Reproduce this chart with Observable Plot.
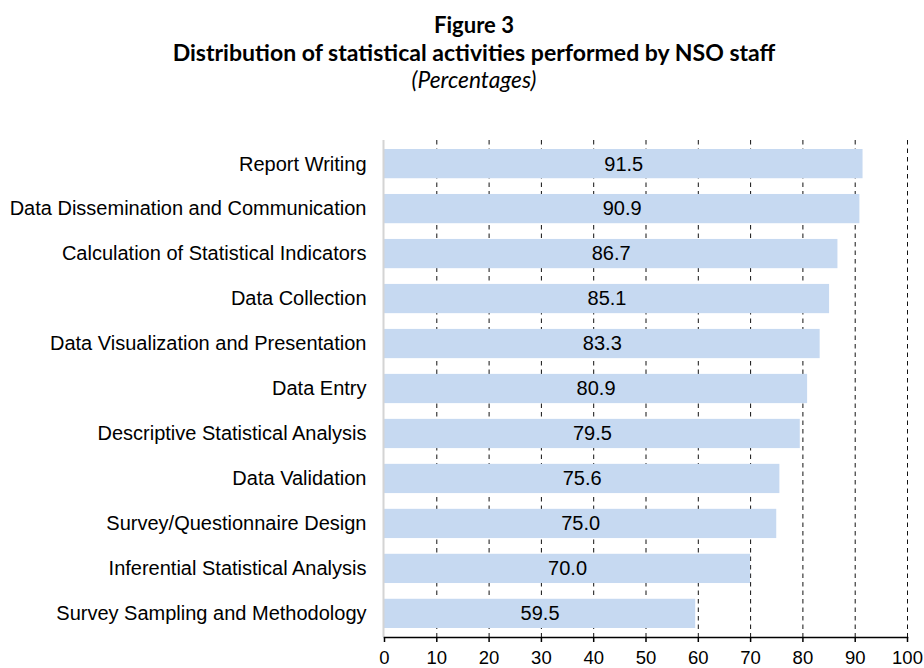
<!DOCTYPE html>
<html>
<head>
<meta charset="utf-8">
<script src="https://cdn.jsdelivr.net/npm/d3@7"></script>
<script src="https://cdn.jsdelivr.net/npm/@observablehq/plot@0.6"></script>
<style>
  body { margin: 0; background: #fff; }
  #wrap { position: relative; width: 924px; height: 668px; overflow: hidden; }
  #titles { position: absolute; left: 0; top: 0; pointer-events: none; }
</style>
</head>
<body>
<div id="wrap">
  <div id="chart"></div>
  <svg id="titles" width="924" height="110" xmlns="http://www.w3.org/2000/svg">
    <text id="t1" x="474" y="33" text-anchor="middle" font-family="Lato, 'Open Sans', sans-serif" font-weight="bold" font-size="20" data-w="80">Figure 3</text>
    <text id="t2" x="474" y="61" text-anchor="middle" font-family="Lato, 'Open Sans', sans-serif" font-weight="bold" font-size="20" data-w="603">Distribution of statistical activities performed by NSO staff</text>
    <text id="t3" x="474" y="88" text-anchor="middle" font-family="Lato, 'Open Sans', sans-serif" font-style="italic" font-size="18" data-w="125">(Percentages)</text>
  </svg>
</div>
<script>
const categories = [
  "Report Writing",
  "Data Dissemination and Communication",
  "Calculation of Statistical Indicators",
  "Data Collection",
  "Data Visualization and Presentation",
  "Data Entry",
  "Descriptive Statistical Analysis",
  "Data Validation",
  "Survey/Questionnaire Design",
  "Inferential Statistical Analysis",
  "Survey Sampling and Methodology"
];
const values = [91.5, 90.9, 86.7, 85.1, 83.3, 80.9, 79.5, 75.6, 75.0, 70.0, 59.5];
const xTicks = [0, 10, 20, 30, 40, 50, 60, 70, 80, 90, 100];
const gridTicks = [10, 20, 30, 40, 50, 60, 70, 80, 90, 100];

const data = categories.map((c, i) => ({activity: c, value: values[i]}));

const chart = Plot.plot({
  width: 924,
  height: 668,
  marginTop: 140,
  marginBottom: 31,
  marginLeft: 384,
  marginRight: 17,
  style: {fontFamily: "Arial, 'Liberation Sans', sans-serif", fontSize: "20px", color: "#000", background: "#fff"},
  x: {domain: [0, 100]},
  y: {domain: categories, paddingInner: 0.35, paddingOuter: 0.2, round: false},
  marks: [
    Plot.ruleX(gridTicks, {stroke: "#111", strokeWidth: 1, strokeDasharray: "4.5,4"}),
    Plot.barX(data, {x: "value", y: "activity", fill: "#c6d9f1"}),
    Plot.text(data, {x: d => d.value / 2, y: "activity", text: d => d.value.toFixed(1), fontSize: 20, fill: "#000"}),
    Plot.ruleX([0], {stroke: "#d4d4d4", strokeWidth: 2, dx: -1}),
    Plot.frame({anchor: "bottom", stroke: "#000", strokeWidth: 1.5}),
    Plot.axisX({ticks: xTicks, tickSize: 5, tickPadding: 8, label: null, fontSize: 18.5, stroke: "#000", strokeWidth: 1.5}),
    Plot.axisY({tickSize: 0, tickPadding: 18, label: null, fontSize: 20})
  ]
});
document.getElementById("chart").appendChild(chart);

// fit title widths
for (const id of ["t1", "t2", "t3"]) {
  const el = document.getElementById(id);
  const target = +el.getAttribute("data-w");
  const fs = +el.getAttribute("font-size");
  const w = el.getComputedTextLength();
  if (w > 0) el.setAttribute("font-size", (fs * target / w).toFixed(2));
}
</script>
</body>
</html>
